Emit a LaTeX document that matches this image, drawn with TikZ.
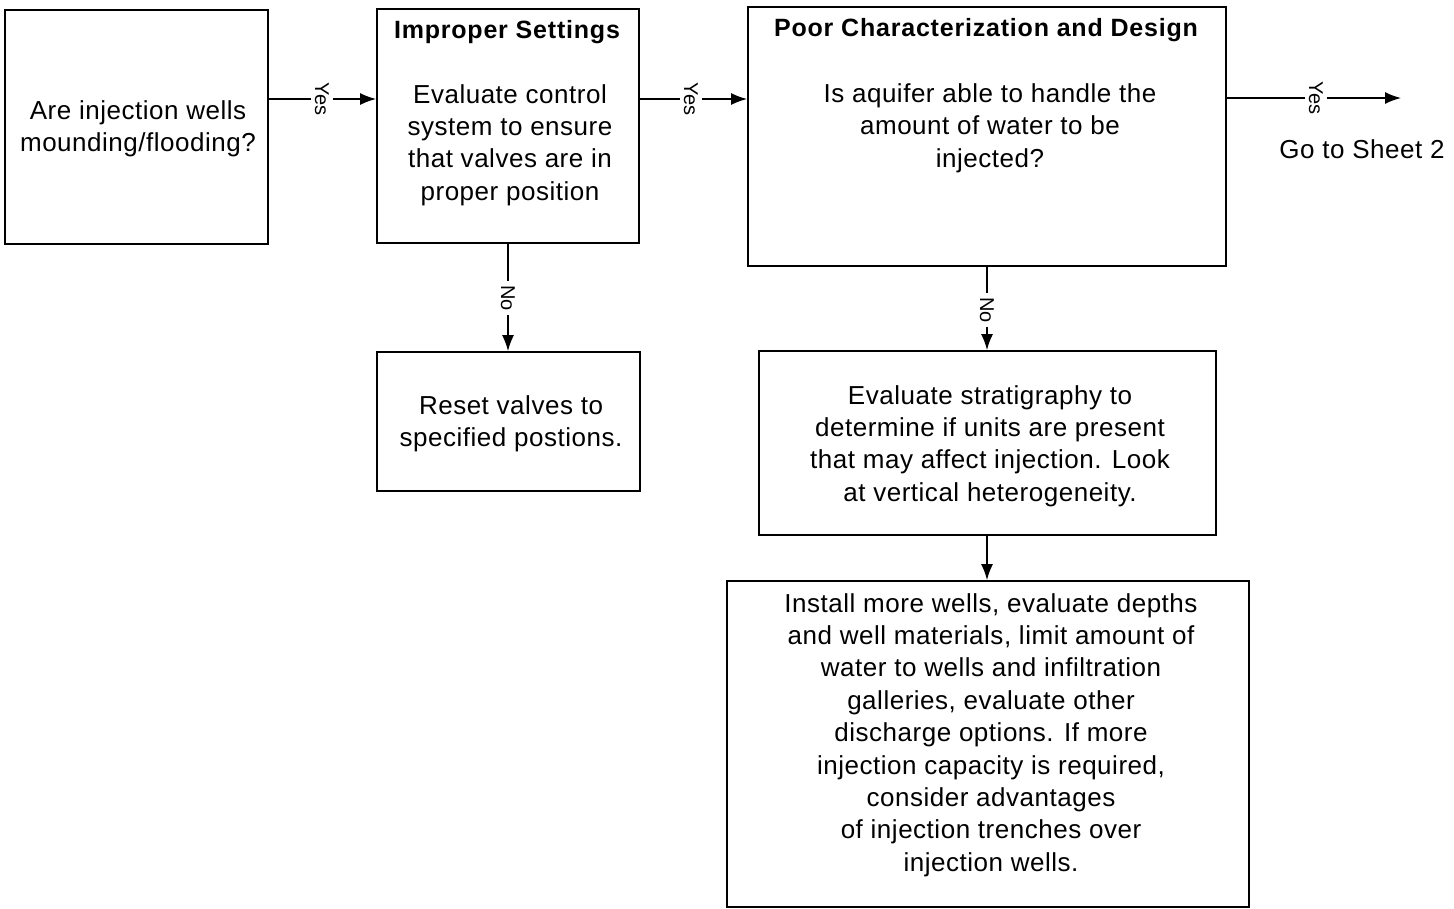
\documentclass[tikz,border=0pt]{standalone}
\usepackage{fontspec}
\setmainfont{Liberation Sans}[LetterSpace=2]
\newfontfamily\ttlfont{Liberation Sans}[LetterSpace=3.2]
\usetikzlibrary{arrows.meta}
\begin{document}
\begin{tikzpicture}[x=1pt,y=-1pt,
  box/.style={draw, line width=1.8pt, inner sep=0pt},
  txt/.style={align=center, inner sep=0pt, font=\fontsize{26}{32.4}\selectfont},
  ttl/.style={align=center, inner sep=0pt, font=\fontsize{25}{28}\selectfont\ttlfont\bfseries},
  lbl/.style={inner sep=3.5pt, rotate=-90, font=\fontsize{20}{22}\selectfont},
  conn/.style={line width=1.5pt},
  arr/.style={line width=1.5pt, -{Latex[length=16pt,width=12pt]}}]
\useasboundingbox (0,0) rectangle (1454,908);
% boxes
\node[box, minimum width=263pt, minimum height=234pt] (A) at (136.5,127) {};
\node[box, minimum width=262pt, minimum height=234pt] (B) at (508,126) {};
\node[box, minimum width=478pt, minimum height=259pt] (C) at (987,136.5) {};
\node[box, minimum width=263pt, minimum height=139pt] (D) at (508.5,421.5) {};
\node[box, minimum width=457pt, minimum height=184pt] (E) at (987.5,443) {};
\node[box, minimum width=522pt, minimum height=326pt] (F) at (988,744) {};
% texts
\node[txt] (tA) at (138,129) {Are injection wells\\mounding/flooding?};
\node[ttl] (hB) at (507,32) {Improper Settings};
\node[txt] (tB) at (510,145) {Evaluate control\\system to ensure\\that valves are in\\proper position};
\node[ttl] (hC) at (986,30) {Poor Characterization and Design};
\node[txt] (tC) at (990,128) {Is aquifer able to handle the\\amount of water to be\\injected?};
\node[txt] (tD) at (511,424) {Reset valves to\\specified postions.};
\node[txt] (tE) at (990,446) {Evaluate stratigraphy to\\determine if units are present\\that may affect injection. Look\\at vertical heterogeneity.};
\node[txt] (tF) at (991,735) {Install more wells, evaluate depths\\and well materials, limit amount of\\water to wells and infiltration\\galleries, evaluate other\\discharge options. If more\\injection capacity is required,\\consider advantages\\of injection trenches over\\injection wells.};
\node[txt] (G) at (1362,149) {Go to Sheet 2};
\coordinate (gend) at (1401,98);
% labels
\node[lbl] (y1) at (322,99) {Yes};
\node[lbl] (y2) at (691,99) {Yes};
\node[lbl] (y3) at (1316,98) {Yes};
\node[lbl] (n1) at (508,298) {No};
\node[lbl] (n2) at (987,310) {No};
% connectors
\draw[conn] (A.east|-y1) -- (y1);
\draw[arr] (y1) -- (B.west|-y1);
\draw[conn] (B.east|-y2) -- (y2);
\draw[arr] (y2) -- (C.west|-y2);
\draw[conn] (C.east|-y3) -- (y3);
\draw[arr] (y3) -- (gend);
\draw[conn] (B.south-|n1) -- (n1);
\draw[arr] (n1) -- (D.north-|n1);
\draw[conn] (C.south-|n2) -- (n2);
\draw[arr] (n2) -- (E.north-|n2);
\draw[arr] (E.south-|n2) -- (F.north-|n2);
\end{tikzpicture}
\end{document}
